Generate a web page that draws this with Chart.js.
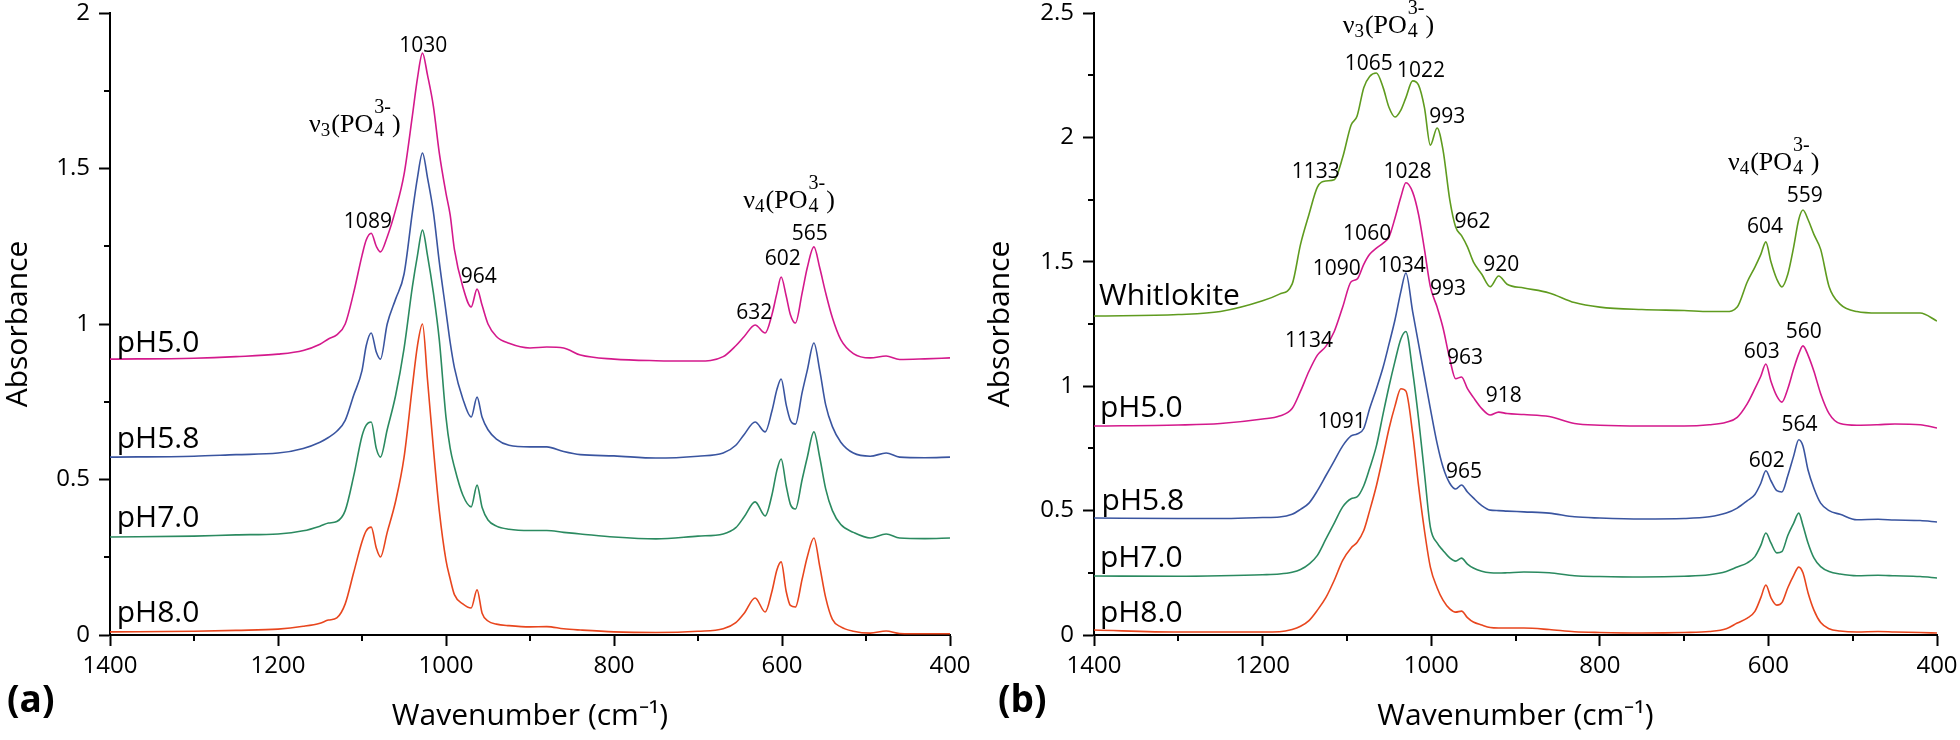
<!DOCTYPE html>
<html>
<head>
<meta charset="utf-8">
<script src="https://cdn.jsdelivr.net/npm/chart.js@4.4.1/dist/chart.umd.min.js"></script>
<style>
  html, body { margin: 0; padding: 0; background: #fff; }
  #wrap { position: relative; width: 1960px; height: 740px; }
  canvas { position: absolute; top: 0; }
  #chartA { left: 0; }
  #chartB { left: 980px; }
</style>
</head>
<body>
<div id="wrap">
  <canvas id="chartA" width="980" height="740"></canvas>
  <canvas id="chartB" width="980" height="740"></canvas>
</div>
<script>
// ---- panel (a): FTIR spectra at different pH ----
const wavenumberA = [1400, 1300, 1250, 1200, 1170, 1150, 1140, 1130, 1120, 1110, 1100, 1095, 1089, 1083, 1078,
  1070, 1060, 1050, 1040, 1034, 1028, 1022, 1015, 1008, 1000, 995, 990, 980, 970, 963, 957, 950, 940, 925, 900,
  880, 860, 840, 800, 750, 700, 670, 655, 645, 632, 620, 612, 606, 601, 595, 590, 584, 576, 570, 562, 555, 548,
  540, 530, 515, 495, 476, 460, 430, 400];
const pH50A = [0.887, 0.890, 0.895, 0.903, 0.915, 0.935, 0.952, 0.965, 1.00, 1.10, 1.22, 1.27, 1.292, 1.25, 1.232,
  1.28, 1.367, 1.48, 1.67, 1.79, 1.871, 1.80, 1.70, 1.55, 1.42, 1.35, 1.24, 1.12, 1.055, 1.112, 1.06, 1.00, 0.96, 0.938, 0.923,
  0.926, 0.923, 0.90, 0.887, 0.882, 0.881, 0.895, 0.93, 0.96, 0.997, 0.971, 1.03, 1.10, 1.151, 1.09, 1.03, 1.003, 1.10, 1.18, 1.248, 1.18, 1.10,
  1.02, 0.95, 0.905, 0.891, 0.897, 0.886, 0.888, 0.891];
const pH58A = [0.572, 0.575, 0.580, 0.585, 0.60, 0.62, 0.635, 0.655, 0.69, 0.77, 0.85, 0.93, 0.971, 0.91, 0.887,
  1.00, 1.08, 1.16, 1.36, 1.47, 1.55, 1.47, 1.36, 1.20, 1.04, 0.94, 0.86, 0.76, 0.701, 0.765, 0.70, 0.66, 0.63, 0.61, 0.605,
  0.605, 0.59, 0.58, 0.576, 0.569, 0.575, 0.585, 0.61, 0.645, 0.685, 0.653, 0.72, 0.79, 0.823, 0.74, 0.69, 0.678, 0.78, 0.85, 0.939, 0.85, 0.74,
  0.67, 0.62, 0.585, 0.575, 0.585, 0.572, 0.570, 0.572];
const pH70A = [0.315, 0.318, 0.322, 0.325, 0.335, 0.350, 0.36, 0.365, 0.40, 0.51, 0.64, 0.675, 0.685, 0.60, 0.572,
  0.66, 0.77, 0.92, 1.12, 1.22, 1.302, 1.22, 1.10, 0.95, 0.70, 0.60, 0.54, 0.45, 0.412, 0.482, 0.41, 0.37, 0.35, 0.34, 0.336,
  0.336, 0.33, 0.325, 0.315, 0.309, 0.318, 0.325, 0.345, 0.38, 0.428, 0.383, 0.45, 0.53, 0.566, 0.48, 0.42, 0.405, 0.50, 0.57, 0.653, 0.57, 0.47,
  0.40, 0.355, 0.33, 0.312, 0.325, 0.312, 0.31, 0.312];
const pH80A = [0.01, 0.012, 0.015, 0.019, 0.028, 0.038, 0.048, 0.055, 0.10, 0.20, 0.30, 0.335, 0.347, 0.28, 0.251,
  0.33, 0.43, 0.57, 0.80, 0.93, 1.0, 0.82, 0.60, 0.40, 0.24, 0.18, 0.13, 0.10, 0.087, 0.145, 0.07, 0.045, 0.035, 0.03, 0.026,
  0.027, 0.02, 0.016, 0.01, 0.008, 0.012, 0.02, 0.04, 0.07, 0.119, 0.074, 0.14, 0.21, 0.235, 0.14, 0.095, 0.09, 0.18, 0.25, 0.312, 0.22, 0.12,
  0.05, 0.026, 0.012, 0.006, 0.013, 0.005, 0.004, 0.004];

// ---- panel (b): with whitlockite reference ----
const wavenumberB = [1400, 1300, 1250, 1200, 1180, 1165, 1155, 1145, 1135, 1125, 1115, 1105, 1095, 1088, 1080,
  1073, 1065, 1057, 1050, 1043, 1036, 1030, 1022, 1015, 1008, 1001, 993, 986, 978, 971, 964, 957, 950, 940, 930,
  920, 910, 890, 860, 830, 800, 750, 700, 670, 650, 637, 625, 616, 609, 603, 597, 590, 584, 577, 570, 564, 559,
  553, 546, 538, 528, 515, 495, 470, 450, 420, 400];
const whitlokiteB = [1.282, 1.288, 1.30, 1.343, 1.37, 1.41, 1.57, 1.69, 1.80, 1.825, 1.83, 1.92, 2.05, 2.085, 2.20,
  2.245, 2.259, 2.20, 2.12, 2.082, 2.11, 2.16, 2.227, 2.21, 2.12, 1.969, 2.038, 1.95, 1.75, 1.64, 1.605, 1.56, 1.50, 1.45, 1.40,
  1.443, 1.41, 1.395, 1.375, 1.336, 1.318, 1.308, 1.304, 1.30, 1.30, 1.318, 1.42, 1.479, 1.53, 1.58, 1.50, 1.43, 1.399, 1.45, 1.56, 1.67, 1.708,
  1.67, 1.61, 1.55, 1.40, 1.33, 1.30, 1.294, 1.294, 1.294, 1.262];
const pH50B = [0.84, 0.844, 0.85, 0.868, 0.88, 0.91, 0.98, 1.06, 1.125, 1.16, 1.22, 1.318, 1.42, 1.43, 1.49,
  1.53, 1.555, 1.575, 1.60, 1.675, 1.76, 1.818, 1.78, 1.69, 1.55, 1.40, 1.318, 1.235, 1.11, 1.03, 1.037, 0.99, 0.955, 0.91, 0.884,
  0.896, 0.89, 0.886, 0.878, 0.85, 0.843, 0.84, 0.84, 0.845, 0.855, 0.875, 0.93, 0.99, 1.04, 1.089, 1.02, 0.96, 0.936, 0.99, 1.07, 1.13, 1.162,
  1.125, 1.06, 0.97, 0.89, 0.85, 0.843, 0.845, 0.848, 0.845, 0.832];
const pH58B = [0.47, 0.468, 0.468, 0.472, 0.474, 0.485, 0.505, 0.53, 0.58, 0.64, 0.70, 0.76, 0.80, 0.808, 0.83,
  0.91, 0.99, 1.077, 1.17, 1.266, 1.38, 1.455, 1.30, 1.17, 1.04, 0.91, 0.77, 0.675, 0.61, 0.587, 0.603, 0.575, 0.551, 0.52, 0.502,
  0.50, 0.498, 0.495, 0.49, 0.475, 0.47, 0.466, 0.468, 0.475, 0.49, 0.51, 0.54, 0.565, 0.61, 0.66, 0.62, 0.58, 0.575, 0.64, 0.72, 0.785, 0.76,
  0.663, 0.59, 0.53, 0.50, 0.485, 0.463, 0.465, 0.462, 0.46, 0.454];
const pH70B = [0.237, 0.236, 0.238, 0.242, 0.245, 0.252, 0.263, 0.285, 0.32, 0.385, 0.45, 0.515, 0.548, 0.555, 0.60,
  0.67, 0.76, 0.89, 1.00, 1.10, 1.19, 1.22, 1.06, 0.87, 0.65, 0.434, 0.37, 0.34, 0.31, 0.297, 0.309, 0.285, 0.269, 0.256, 0.25,
  0.249, 0.25, 0.253, 0.25, 0.238, 0.235, 0.233, 0.236, 0.242, 0.255, 0.273, 0.29, 0.315, 0.36, 0.41, 0.37, 0.33, 0.335, 0.40, 0.45, 0.49, 0.44,
  0.37, 0.31, 0.275, 0.255, 0.245, 0.238, 0.24, 0.238, 0.235, 0.229];
const pH80B = [0.02, 0.012, 0.012, 0.012, 0.013, 0.022, 0.035, 0.058, 0.10, 0.15, 0.22, 0.30, 0.35, 0.372, 0.42,
  0.50, 0.60, 0.72, 0.83, 0.92, 0.99, 0.98, 0.81, 0.60, 0.42, 0.273, 0.19, 0.14, 0.105, 0.092, 0.096, 0.07, 0.052, 0.04, 0.03,
  0.028, 0.028, 0.028, 0.022, 0.013, 0.01, 0.008, 0.01, 0.014, 0.025, 0.048, 0.068, 0.095, 0.15, 0.201, 0.15, 0.12, 0.13, 0.19, 0.24, 0.273, 0.25,
  0.17, 0.10, 0.05, 0.025, 0.016, 0.012, 0.014, 0.012, 0.01, 0.008];

// peak annotations: [text, wavenumber, absorbance of text baseline]
const peaksA = [['1030', 1027, 1.875], ['1089', 1093, 1.309], ['964', 961, 1.132],
  ['632', 633, 1.016], ['602', 599, 1.19], ['565', 567, 1.27]];
const peaksB = [['1065', 1074, 2.271], ['1022', 1012, 2.243], ['993', 981, 2.058], ['1133', 1137, 1.837],
  ['1028', 1028, 1.837], ['962', 951, 1.636], ['1060', 1076, 1.588], ['1090', 1112, 1.447], ['1034', 1035, 1.459],
  ['993', 980, 1.367], ['920', 917, 1.463], ['1134', 1145, 1.158], ['963', 960, 1.089], ['918', 914, 0.937],
  ['1091', 1106, 0.832], ['965', 961, 0.631], ['604', 604, 1.616], ['559', 557, 1.74], ['603', 608, 1.113],
  ['560', 558, 1.194], ['564', 563, 0.82], ['602', 602, 0.675]];
const namesA = [['pH5.0', 1392, 0.910], ['pH5.8', 1392, 0.601], ['pH7.0', 1392, 0.347], ['pH8.0', 1392, 0.042]];
const namesB = [['Whitlokite', 1394, 1.326], ['pH5.0', 1393, 0.876], ['pH5.8', 1391, 0.502],
  ['pH7.0', 1393, 0.273], ['pH8.0', 1393, 0.052]];
const modesA = [['3', 1163, 1.617], ['4', 646, 1.373]];
const modesB = [['3', 1105, 2.42], ['4', 648, 1.869]];

const FONT = "'Open Sans', 'Liberation Sans', Arial, sans-serif";
const SERIF = "'Liberation Serif', 'Times New Roman', serif";

function nuLabel(ctx, x, y, order) {
  ctx.textAlign = 'left';
  let cx = x;
  ctx.font = '26px ' + SERIF;
  ctx.fillText('\u03bd', cx, y);
  cx += ctx.measureText('\u03bd').width;
  ctx.font = '19px ' + SERIF;
  ctx.fillText(order, cx, y + 4);
  cx += ctx.measureText(order).width + 1;
  ctx.font = '26px ' + SERIF;
  ctx.fillText('(PO', cx, y);
  cx += ctx.measureText('(PO').width + 1;
  ctx.font = '20px ' + SERIF;
  ctx.fillText('3-', cx, y - 19);
  ctx.fillText('4', cx, y + 4);
  cx += ctx.measureText('3-').width + 1;
  ctx.font = '26px ' + SERIF;
  ctx.fillText(')', cx, y);
}

const spectrumMarks = {
  id: 'spectrumMarks',
  afterDraw(chart, args, o) {
    const {ctx, chartArea: area, scales: {x, y}} = chart;
    ctx.save();
    // minor ticks
    ctx.strokeStyle = '#000';
    ctx.lineWidth = 2;
    ctx.beginPath();
    o.minorX.forEach(v => {
      const px = Math.round(x.getPixelForValue(v));
      ctx.moveTo(px, area.bottom);
      ctx.lineTo(px, area.bottom + 6);
    });
    o.minorY.forEach(v => {
      const py = Math.round(y.getPixelForValue(v));
      ctx.moveTo(area.left, py);
      ctx.lineTo(area.left - 6, py);
    });
    ctx.stroke();

    ctx.fillStyle = '#000';
    ctx.textBaseline = 'alphabetic';
    ctx.font = '21px ' + FONT;
    ctx.textAlign = 'center';
    o.peaks.forEach(([t, wn, a]) => ctx.fillText(t, x.getPixelForValue(wn), y.getPixelForValue(a)));
    ctx.font = '30px ' + FONT;
    ctx.textAlign = 'left';
    o.names.forEach(([t, wn, a]) => ctx.fillText(t, x.getPixelForValue(wn), y.getPixelForValue(a)));
    o.modes.forEach(([ord, wn, a]) => nuLabel(ctx, x.getPixelForValue(wn), y.getPixelForValue(a), ord));
    ctx.font = 'bold 37px ' + FONT;
    ctx.textAlign = 'left';
    ctx.fillText(o.letter, o.letterX, 712);
    ctx.restore();
  }
};

function makeChart(id, wn, series, cfg) {
  const datasets = series.map(([vals, color]) => ({
    data: wn.map((w, i) => ({x: w, y: vals[i]})),
    borderColor: color,
    borderWidth: 1.6,
    pointRadius: 0,
    fill: false,
    cubicInterpolationMode: 'monotone'
  }));
  const axisGrid = {
    display: true, drawOnChartArea: false, drawTicks: true,
    tickLength: 11, tickWidth: 2, tickColor: '#000', color: '#000'
  };
  return new Chart(document.getElementById(id), {
    type: 'line',
    data: {datasets},
    plugins: [spectrumMarks],
    options: {
      responsive: false,
      animation: false,
      devicePixelRatio: 1,
      layout: {padding: {left: 0, right: cfg.right, top: 13, bottom: 0}},
      plugins: {
        legend: {display: false},
        tooltip: {enabled: false},
        spectrumMarks: cfg.marks
      },
      scales: {
        x: {
          type: 'linear', reverse: true, min: 400, max: 1400,
          border: {display: true, color: '#000', width: 2},
          grid: axisGrid,
          ticks: {stepSize: 200, color: '#000', padding: 6, maxRotation: 0, autoSkip: false,
            font: {family: FONT, size: 24}, callback: v => String(v)},
          title: {display: true, text: 'Wavenumber (cm\u207b\u00b9)', color: '#000',
            font: {family: FONT, size: 30}, padding: {top: 0, bottom: 6}},
          afterFit: s => { s.height = 105; s.paddingLeft = 0; s.paddingRight = 0; }
        },
        y: {
          min: 0, max: cfg.yMax,
          border: {display: true, color: '#000', width: 2},
          grid: axisGrid,
          ticks: {stepSize: 0.5, color: '#000', padding: 9, font: {family: FONT, size: 24},
            callback: v => String(Math.round(v * 10) / 10)},
          title: {display: true, text: 'Absorbance', color: '#000',
            font: {family: FONT, size: 30}, padding: {top: cfg.titlePad, bottom: 0}},
          afterFit: s => { s.width = cfg.yWidth; s.paddingTop = 0; s.paddingBottom = 0; }
        }
      }
    }
  });
}

makeChart('chartA', wavenumberA,
  [[pH50A, '#d4198c'], [pH58A, '#3a55a0'], [pH70A, '#2b8a60'], [pH80A, '#e8461e']],
  {right: 30, yMax: 2, yWidth: 110, titlePad: 0,
   marks: {minorX: [1300, 1100, 900, 700, 500], minorY: [0.25, 0.75, 1.25, 1.75],
     peaks: peaksA, names: namesA, modes: modesA, letter: '(a)', letterX: 7}});

makeChart('chartB', wavenumberB,
  [[whitlokiteB, '#5f9b1f'], [pH50B, '#d4198c'], [pH58B, '#3a55a0'], [pH70B, '#2b8a60'], [pH80B, '#e8461e']],
  {right: 23, yMax: 2.5, yWidth: 114, titlePad: 2,
   marks: {minorX: [1300, 1100, 900, 700, 500], minorY: [0.25, 0.75, 1.25, 1.75, 2.25],
     peaks: peaksB, names: namesB, modes: modesB, letter: '(b)', letterX: 18}});
</script>
</body>
</html>
